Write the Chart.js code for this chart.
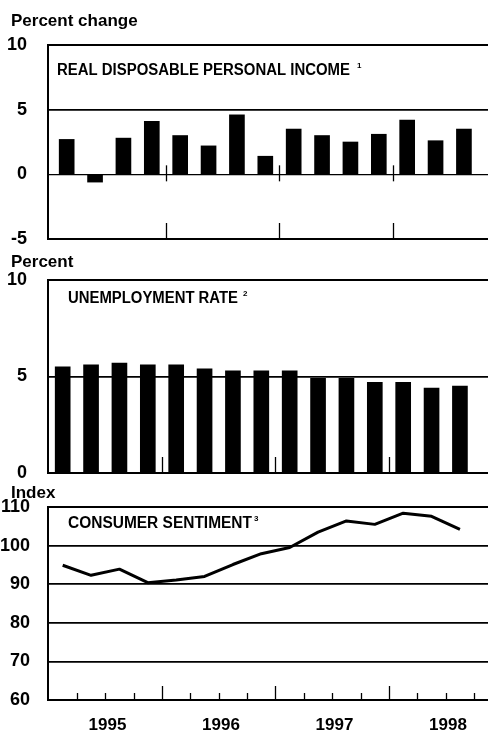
<!DOCTYPE html>
<html>
<head>
<meta charset="utf-8">
<script src="https://cdn.jsdelivr.net/npm/chart.js@4.4.1/dist/chart.umd.min.js"></script>
<style>
html, body { margin: 0; padding: 0; background: #fff; overflow: hidden; }
#page { position: relative; width: 488px; height: 732px; overflow: hidden; background: #fff; }
canvas { position: absolute; left: 0; }
#incomeChart { top: 0; }
#jobsChart { top: 240px; }
#sentimentChart { top: 480px; }
</style>
</head>
<body>
<div id="page">
    <canvas id="incomeChart" width="500" height="252"></canvas>
    <canvas id="jobsChart" width="500" height="246"></canvas>
    <canvas id="sentimentChart" width="500" height="252"></canvas>
</div>
<script>
const quarters = [
    '1995 Q1', '1995 Q2', '1995 Q3', '1995 Q4',
    '1996 Q1', '1996 Q2', '1996 Q3', '1996 Q4',
    '1997 Q1', '1997 Q2', '1997 Q3', '1997 Q4',
    '1998 Q1', '1998 Q2', '1998 Q3'
];
const years = [1995, 1996, 1997, 1998];

const incomeChange = [2.7, -0.6, 2.8, 4.1, 3.0, 2.2, 4.6, 1.4, 3.5, 3.0, 2.5, 3.1, 4.2, 2.6, 3.5];
const unemploymentRate = [5.5, 5.6, 5.7, 5.6, 5.6, 5.4, 5.3, 5.3, 5.3, 4.9, 4.9, 4.7, 4.7, 4.4, 4.5];
const sentimentIndex = [94.9, 92.3, 93.9, 90.4, 91.1, 92.0, 95.1, 97.9, 99.5, 103.5, 106.4, 105.5, 108.4, 107.6, 104.2];

const FONT = '"Liberation Sans", Arial, Helvetica, sans-serif';

// quarter label -> position on a year axis (middle of the quarter)
const quarterX = quarters.map(q => {
    const [yr, qq] = q.split(' Q');
    return Number(yr) + (Number(qq) - 0.5) / 4;
});
const yearStarts = years.slice(1);
const quarterStarts = years.flatMap(y => [y + 0.25, y + 0.5, y + 0.75]);

function toPoints(values) {
    return values.map((v, i) => ({ x: quarterX[i], y: v }));
}

function drawFitted(ctx, text, x, y, width) {
    const natural = ctx.measureText(text).width;
    ctx.save();
    ctx.translate(x, y);
    ctx.scale(width / natural, 1);
    ctx.fillText(text, 0, 0);
    ctx.restore();
}

// labels, panel titles and the little tick marks on the frame
const panelDecor = {
    id: 'panelDecor',
    afterDatasetsDraw(chart, args, opts) {
        const { ctx, scales: { x, y } } = chart;
        ctx.save();
        ctx.strokeStyle = '#000';
        ctx.lineWidth = 1.3;
        (opts.marks || []).forEach(m => {
            m.at.forEach(v => {
                const px = Math.round(x.getPixelForValue(v)) + 0.5;
                const py = y.getPixelForValue(m.base);
                ctx.beginPath();
                ctx.moveTo(px, py - m.up);
                ctx.lineTo(px, py + m.down);
                ctx.stroke();
            });
        });

        ctx.fillStyle = '#000';
        ctx.textAlign = 'left';
        ctx.textBaseline = 'alphabetic';
        ctx.font = 'bold 17px ' + FONT;
        ctx.fillText(opts.unit, 11, opts.unitY);

        ctx.font = 'bold 16px ' + FONT;
        drawFitted(ctx, opts.title, opts.titleX, opts.titleY, opts.titleWidth);
        ctx.font = 'bold 8px ' + FONT;
        ctx.fillText(opts.note, opts.noteX, opts.titleY - 7);

        if (opts.yearLabels) {
            ctx.font = 'bold 17px ' + FONT;
            ctx.textAlign = 'center';
            years.forEach(yr => {
                ctx.fillText(String(yr), x.getPixelForValue(yr + 0.52), opts.yearLabelY);
            });
        }
        ctx.restore();
    }
};

function yAxis(min, max, step, labelPad, zeroWidth) {
    return {
        min: min,
        max: max,
        border: { display: true, color: '#000', width: 2 },
        grid: {
            color: '#000',
            drawTicks: false,
            lineWidth: c => {
                const v = c.tick.value;
                if (v === min || v === max) return 2;
                if (v === 0 && zeroWidth) return zeroWidth;
                return 1.8;
            }
        },
        ticks: {
            stepSize: step,
            padding: labelPad,
            autoSkip: false,
            color: '#000',
            font: { family: FONT, size: 18, weight: 'bold' }
        },
        afterFit: s => {
            s.width = 48;
            // the layout padding alone decides where the frame sits
            s.paddingTop = 0;
            s.paddingBottom = 0;
        }
    };
}

function xAxis(min, max) {
    return { type: 'linear', display: false, offset: false, min: min, max: max, grid: { display: false } };
}

const common = {
    responsive: false,
    animation: false,
    plugins: { legend: { display: false }, tooltip: { enabled: false } }
};

new Chart(document.getElementById('incomeChart'), {
    type: 'bar',
    data: {
        datasets: [{
            data: toPoints(incomeChange),
            backgroundColor: '#000',
            borderWidth: 0,
            barThickness: 15
        }]
    },
    options: {
        ...common,
        layout: { padding: { top: 45, bottom: 13, left: 0, right: 0 } },
        scales: {
            x: xAxis(1994.9604, 1998.9428),
            y: yAxis(-5, 10, 5, 21, 1.2)
        },
        plugins: {
            ...common.plugins,
            panelDecor: {
                unit: 'Percent change', unitY: 26,
                title: 'REAL DISPOSABLE PERSONAL INCOME', titleX: 57, titleY: 75, titleWidth: 293,
                note: '1', noteX: 357,
                marks: [
                    { at: yearStarts, base: 0, up: 9, down: 7 },
                    { at: yearStarts, base: -5, up: 16, down: 0 }
                ]
            }
        }
    },
    plugins: [panelDecor]
});

new Chart(document.getElementById('jobsChart'), {
    type: 'bar',
    data: {
        datasets: [{
            data: toPoints(unemploymentRate),
            backgroundColor: '#000',
            borderWidth: 0,
            barThickness: 15
        }]
    },
    options: {
        ...common,
        layout: { padding: { top: 40, bottom: 13, left: 0, right: 0 } },
        scales: {
            x: xAxis(1994.9956, 1998.978),
            y: yAxis(0, 10, 5, 21, 0)
        },
        plugins: {
            ...common.plugins,
            panelDecor: {
                unit: 'Percent', unitY: 27,
                title: 'UNEMPLOYMENT RATE', titleX: 68, titleY: 63, titleWidth: 170,
                note: '2', noteX: 243,
                marks: [
                    { at: yearStarts, base: 0, up: 16, down: 0 }
                ]
            }
        }
    },
    plugins: [panelDecor]
});

new Chart(document.getElementById('sentimentChart'), {
    type: 'line',
    data: {
        datasets: [{
            data: toPoints(sentimentIndex),
            borderColor: '#000',
            borderWidth: 3,
            borderJoinStyle: 'round',
            pointRadius: 0,
            tension: 0
        }]
    },
    options: {
        ...common,
        layout: { padding: { top: 27, bottom: 32, left: 0, right: 0 } },
        scales: {
            x: xAxis(1994.9956, 1998.978),
            y: yAxis(60, 110, 10, 18, 0)
        },
        plugins: {
            ...common.plugins,
            panelDecor: {
                unit: 'Index', unitY: 18,
                title: 'CONSUMER SENTIMENT', titleX: 68, titleY: 48, titleWidth: 184,
                note: '3', noteX: 254,
                yearLabels: true, yearLabelY: 250,
                marks: [
                    { at: yearStarts, base: 60, up: 14, down: 0 },
                    { at: quarterStarts, base: 60, up: 7, down: 0 }
                ]
            }
        }
    },
    plugins: [panelDecor]
});
</script>
</body>
</html>
